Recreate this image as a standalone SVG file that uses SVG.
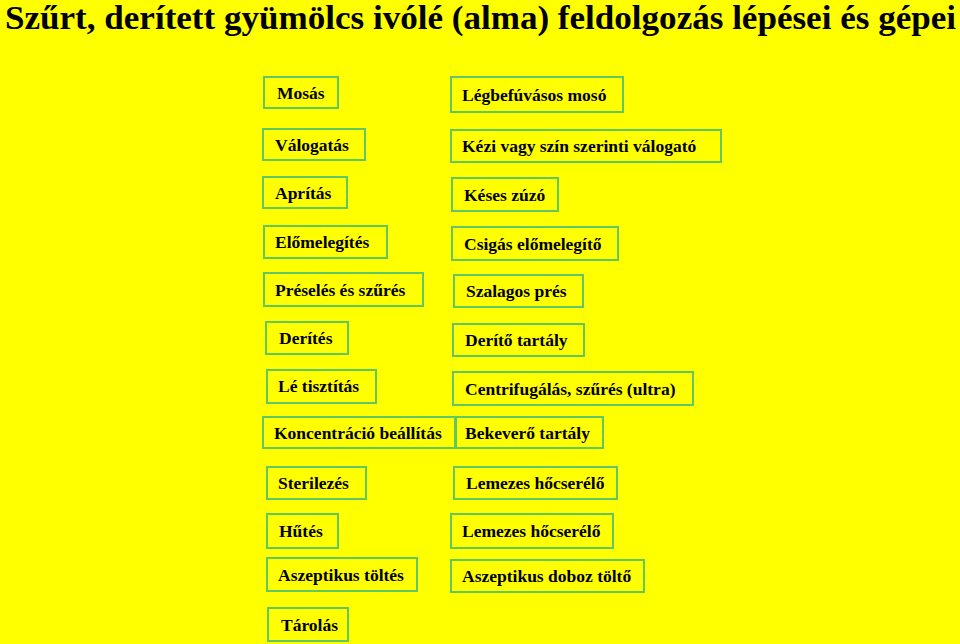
<svg xmlns="http://www.w3.org/2000/svg" width="960" height="644" viewBox="0 0 960 644">
<style>
.bg{fill:#ffff00}
.box{fill:#ffff00;stroke:#60c860;stroke-width:2}
.lbl{font-family:"Liberation Serif","Times New Roman",serif;font-weight:bold;font-size:17.5px;fill:#000}
.title{font-family:"Liberation Serif","Times New Roman",serif;font-weight:bold;font-size:34px;fill:#000}
</style>
<rect class="bg" x="0" y="0" width="960" height="644"/>
<text class="title" x="5" y="29" textLength="951" lengthAdjust="spacingAndGlyphs">Szűrt, derített gyümölcs ivólé (alma) feldolgozás lépései és gépei</text>
<g id="connectors"/>
<g id="n-mosas"><rect class="box" x="264" y="77" width="74" height="31"/><text class="lbl" x="277" y="99">Mosás</text></g>
<g id="n-valogatas"><rect class="box" x="263" y="129" width="102" height="31"/><text class="lbl" x="275" y="151">Válogatás</text></g>
<g id="n-apritas"><rect class="box" x="263" y="177" width="84" height="31"/><text class="lbl" x="275" y="199">Aprítás</text></g>
<g id="n-elomelegites"><rect class="box" x="264" y="226" width="123" height="32"/><text class="lbl" x="275" y="248">Előmelegítés</text></g>
<g id="n-preseles"><rect class="box" x="264" y="273" width="159" height="33"/><text class="lbl" x="275" y="296">Préselés és szűrés</text></g>
<g id="n-derites"><rect class="box" x="266" y="322" width="82" height="32"/><text class="lbl" x="279" y="344">Derítés</text></g>
<g id="n-letisztitas"><rect class="box" x="267" y="370" width="109" height="33"/><text class="lbl" x="278" y="392">Lé tisztítás</text></g>
<g id="n-koncentracio"><rect class="box" x="263" y="417" width="192" height="31"/><text class="lbl" x="274" y="439">Koncentráció beállítás</text></g>
<g id="n-sterilezes"><rect class="box" x="267" y="467" width="99" height="32"/><text class="lbl" x="278" y="489">Sterilezés</text></g>
<g id="n-hutes"><rect class="box" x="267" y="514" width="71" height="34"/><text class="lbl" x="279" y="537">Hűtés</text></g>
<g id="n-aszeptikus-toltes"><rect class="box" x="267" y="558" width="150" height="33"/><text class="lbl" x="278" y="581">Aszeptikus töltés</text></g>
<g id="n-tarolas"><rect class="box" x="268" y="608" width="80" height="33"/><text class="lbl" x="281" y="631">Tárolás</text></g>
<g id="m-legbefuvasos"><rect class="box" x="451" y="77" width="172" height="35"/><text class="lbl" x="462" y="101">Légbefúvásos mosó</text></g>
<g id="m-kezi"><rect class="box" x="451" y="130" width="270" height="32"/><text class="lbl" x="462" y="152">Kézi vagy szín szerinti válogató</text></g>
<g id="m-keses"><rect class="box" x="452" y="178" width="106" height="33"/><text class="lbl" x="464" y="201">Késes zúzó</text></g>
<g id="m-csigas"><rect class="box" x="452" y="227" width="166" height="33"/><text class="lbl" x="464" y="250">Csigás előmelegítő</text></g>
<g id="m-szalagos"><rect class="box" x="454" y="275" width="129" height="32"/><text class="lbl" x="466" y="297">Szalagos prés</text></g>
<g id="m-derito"><rect class="box" x="453" y="324" width="131" height="32"/><text class="lbl" x="465" y="346">Derítő tartály</text></g>
<g id="m-centrifugalas"><rect class="box" x="453" y="372" width="240" height="33"/><text class="lbl" x="465" y="395">Centrifugálás, szűrés (ultra)</text></g>
<g id="m-bekevero"><rect class="box" x="456" y="417" width="147" height="31"/><text class="lbl" x="465" y="439">Bekeverő tartály</text></g>
<g id="m-lemezes1"><rect class="box" x="454" y="467" width="163" height="32"/><text class="lbl" x="466" y="489">Lemezes hőcserélő</text></g>
<g id="m-lemezes2"><rect class="box" x="451" y="514" width="162" height="34"/><text class="lbl" x="462" y="537">Lemezes hőcserélő</text></g>
<g id="m-aszeptikus-doboz"><rect class="box" x="451" y="560" width="193" height="32"/><text class="lbl" x="462" y="582">Aszeptikus doboz töltő</text></g>
</svg>
